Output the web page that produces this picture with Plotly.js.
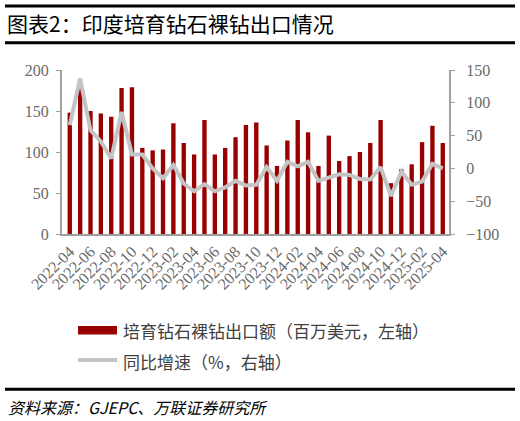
<!DOCTYPE html>
<html>
<head>
<meta charset="utf-8">
<script src="https://cdn.plot.ly/plotly-3.0.1.min.js"></script>
<style>html,body{margin:0;padding:0;background:#fff;}#chart{width:520px;height:421px;}</style>
</head>
<body>
<div id="chart"></div>
<script>
const months = ["2022-04","2022-05","2022-06","2022-07","2022-08","2022-09","2022-10","2022-11","2022-12",
  "2023-01","2023-02","2023-03","2023-04","2023-05","2023-06","2023-07","2023-08","2023-09","2023-10","2023-11","2023-12",
  "2024-01","2024-02","2024-03","2024-04","2024-05","2024-06","2024-07","2024-08","2024-09","2024-10","2024-11","2024-12",
  "2025-01","2025-02","2025-03","2025-04"];
const tickLabels = ["2022-04","2022-06","2022-08","2022-10","2022-12","2023-02","2023-04","2023-06","2023-08",
  "2023-10","2023-12","2024-02","2024-04","2024-06","2024-08","2024-10","2024-12","2025-02","2025-04"];
const exportValues = [148,180,150,147,143,178,179,105,102,103,135,111,97,139,97,105,118,133,136,108,83,114,139,124,83,120,89,95,100,111,139,62,79,85,112,132,111];
const yoyValues = [66,137,58,41,15,86,21,21,0,-15,5,-23,-35,-24,-35,-29,-19,-26,-25,2,-19,10,3,10,-19,-14,-9,-10,-16,-17,2,-42,-5,-25,-20,7,0];
const seriesNames = ["培育钻石裸钻出口额（百万美元，左轴）","同比增速（%，右轴）"];
const titleText = "图表2：印度培育钻石裸钻出口情况";
const sourceText = "资料来源：GJEPC、万联证券研究所";

const W = 520, H = 421;
const L = 62, R = 449, T = 70, B = 234;
const px = x => (x - L) / (R - L);
const py = y => (B - y) / (B - T);

const FONT = "'Liberation Serif', 'Noto Sans CJK SC', serif";
const CJK = "'Noto Sans CJK SC', 'Liberation Serif', sans-serif";
const axisColor = "#a0a0a0";
const tickColor = "#6a6a6a";

const traces = [
  {type:"bar", x: months, y: exportValues, name: seriesNames[0], marker:{color:"#990000", line:{width:0}}, width:0.42, yaxis:"y", showlegend:false},
  {type:"scatter", mode:"lines", x: months, y: yoyValues, name: seriesNames[1], line:{color:"#c4c4c4", width:4}, yaxis:"y2", showlegend:false}
];

const layout = {
  width: W, height: H,
  margin: {l: L, r: W - R, t: T, b: H - B},
  paper_bgcolor: "#fff", plot_bgcolor: "#fff",
  showlegend: false,
  title: {text: titleText, x: 7 / W, xanchor: "left", xref: "container", y: 1 - 25 / H, yanchor: "middle", yref: "container",
          font: {family: CJK, size: 21, color: "#000"}},
  xaxis: {type: "category", range: [-0.75, 36.6], tickmode: "array", tickvals: tickLabels, ticktext: tickLabels,
          tickangle: -45, tickfont: {family: FONT, size: 16, color: tickColor}, showline: true, linecolor: axisColor, linewidth: 2,
          ticks: "", showgrid: false, zeroline: false, fixedrange: true},
  yaxis: {range: [0, 200], dtick: 50, tick0: 0, showline: true, linecolor: axisColor, linewidth: 2, ticks: "outside", ticklen: 4,
          tickcolor: axisColor, tickfont: {family: FONT, size: 16, color: tickColor}, showgrid: false, zeroline: false, ticklabelstandoff: 4},
  yaxis2: {range: [-100, 150], dtick: 50, tick0: -100, overlaying: "y", side: "right", showline: true, linecolor: axisColor, linewidth: 2,
          ticks: "outside", ticklen: 4, tickcolor: axisColor, tickfont: {family: FONT, size: 16, color: tickColor}, showgrid: false, zeroline: false,
          ticklabelstandoff: 8},
  shapes: [
    {type:"line", xref:"paper", yref:"paper", x0: px(5), x1: px(515), y0: py(6), y1: py(6), line:{color:"#000", width:3}},
    {type:"line", xref:"paper", yref:"paper", x0: px(5), x1: px(515), y0: py(42.7), y1: py(42.7), line:{color:"#000", width:3}},
    {type:"line", xref:"paper", yref:"paper", x0: px(5), x1: px(515), y0: py(389.3), y1: py(389.3), line:{color:"#000", width:3}},
    {type:"rect", xref:"paper", yref:"paper", x0: px(78), x1: px(117), y0: py(334.5), y1: py(326), fillcolor:"#990000", line:{width:0}},
    {type:"line", xref:"paper", yref:"paper", x0: px(78), x1: px(117), y0: py(360), y1: py(360), line:{color:"#c4c4c4", width:4}}
  ],
  annotations: [
    {xref:"paper", yref:"paper", x: px(121), y: py(330), xanchor:"left", yanchor:"middle", showarrow:false, text: seriesNames[0],
     font:{family: CJK, size: 17, color:"#404040"}},
    {xref:"paper", yref:"paper", x: px(121), y: py(361), xanchor:"left", yanchor:"middle", showarrow:false, text: seriesNames[1],
     font:{family: CJK, size: 17, color:"#404040"}},
    {xref:"paper", yref:"paper", x: px(6), y: py(407), xanchor:"left", yanchor:"middle", showarrow:false, text: "<i>" + sourceText + "</i>",
     font:{family: CJK, size: 16, color:"#000"}}
  ]
};

Plotly.newPlot("chart", traces, layout, {displayModeBar: false, staticPlot: true});
</script>
</body>
</html>
